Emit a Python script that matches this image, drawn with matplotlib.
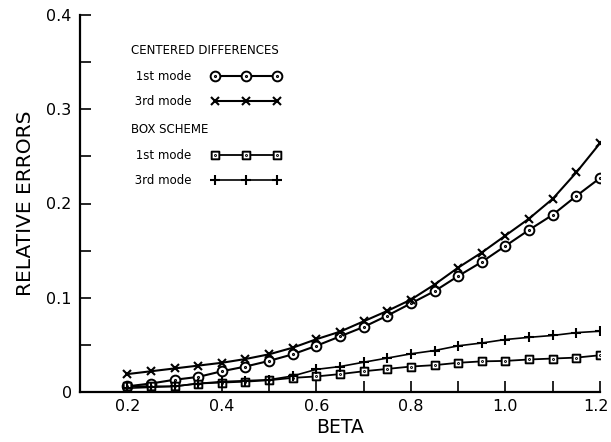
import numpy as np
import matplotlib
matplotlib.use('Agg')
import matplotlib.pyplot as plt
from matplotlib.path import Path
from matplotlib.lines import Line2D
from matplotlib.legend_handler import HandlerLine2D
from matplotlib.ticker import MultipleLocator
from matplotlib.transforms import ScaledTranslation

# beta values, step 0.05
beta = [0.20, 0.25, 0.30, 0.35, 0.40, 0.45, 0.50, 0.55, 0.60, 0.65, 0.70,
        0.75, 0.80, 0.85, 0.90, 0.95, 1.00, 1.05, 1.10, 1.15, 1.20]

# centered differences
cd_mode1 = [0.006, 0.009, 0.013, 0.016, 0.022, 0.027, 0.033, 0.040, 0.049, 0.059, 0.069,
            0.081, 0.094, 0.107, 0.123, 0.138, 0.155, 0.172, 0.188, 0.208, 0.227]
cd_mode3 = [0.019, 0.022, 0.025, 0.028, 0.031, 0.035, 0.040, 0.047, 0.056, 0.064, 0.075,
            0.086, 0.098, 0.114, 0.132, 0.148, 0.166, 0.184, 0.205, 0.233, 0.264]

# box scheme
box_mode1 = [0.006, 0.006, 0.006, 0.009, 0.010, 0.011, 0.0125, 0.015, 0.0165, 0.019, 0.022,
             0.0245, 0.027, 0.0285, 0.031, 0.0325, 0.033, 0.0345, 0.0355, 0.0365, 0.039]
box_mode3 = [0.004, 0.005, 0.006, 0.009, 0.011, 0.012, 0.013, 0.017, 0.024, 0.027, 0.0316,
             0.036, 0.0405, 0.044, 0.049, 0.052, 0.0557, 0.058, 0.060, 0.063, 0.0645]

# markers with a dot in the middle
dot = Path.circle((0, 0), 0.12)
circ_dot = Path.make_compound_path(Path.unit_circle(), dot)
sq = Path([(-1, -1), (1, -1), (1, 1), (-1, 1), (-1, -1)],
          [Path.MOVETO, Path.LINETO, Path.LINETO, Path.LINETO, Path.CLOSEPOLY])
sq_dot = Path.make_compound_path(sq, dot)

plt.rcParams['font.family'] = ['DejaVu Sans']

fig = plt.figure(figsize=(6.11, 4.42), dpi=100)
ax = fig.add_axes([80/611, 1 - 392/442, 520/611, 377/442])

ax.plot(beta, cd_mode1, color='black', lw=1.5, marker=circ_dot, ms=7,
        mfc='white', mec='black', mew=1.4, label=' 1st mode')
ax.plot(beta, cd_mode3, color='black', lw=1.5, marker='x', ms=6,
        mec='black', mew=1.5, label=' 3rd mode')
ax.plot(beta, box_mode1, color='black', lw=1.3, marker=sq_dot, ms=5.5,
        mfc='white', mec='black', mew=1.4, label=' 1st mode')
ax.plot(beta, box_mode3, color='black', lw=1.2, marker='+', ms=7,
        mec='black', mew=1.5, label=' 3rd mode')

ax.set_xlim(0.1, 1.2)
ax.set_ylim(0, 0.4)
ax.xaxis.set_minor_locator(MultipleLocator(0.1))
ax.yaxis.set_minor_locator(MultipleLocator(0.05))
ax.set_xticks([0.2, 0.4, 0.6, 0.8, 1.0, 1.2])
ax.set_xticklabels(['0.2', '0.4', '0.6', '0.8', '1.0', '1.2'])
ax.set_yticks([0, 0.1, 0.2, 0.3, 0.4])
ax.set_yticklabels(['0', '0.1', '0.2', '0.3', '0.4'])
ax.tick_params(which='both', direction='in', width=1.2, length=8,
               labelsize=11.5, colors='black')
ax.tick_params(axis='x', pad=5)
ax.tick_params(axis='y', pad=6)

# keep the last x label inside the figure
last = ax.get_xticklabels()[-1]
last.set_horizontalalignment('right')
last.set_transform(last.get_transform() + ScaledTranslation(0.09, 0, fig.dpi_scale_trans))

for s in ['top', 'right']:
    ax.spines[s].set_visible(False)
for s in ['left', 'bottom']:
    ax.spines[s].set_linewidth(1.6)

ax.set_xlabel('BETA', fontsize=13.5, labelpad=3)
ax.set_ylabel('RELATIVE ERRORS', fontsize=14.5, labelpad=8)

handles, labels = ax.get_legend_handles_labels()
leg_kw = dict(loc='upper left', frameon=False, markerfirst=False, numpoints=3,
              handlelength=7.2, handletextpad=1.0, labelspacing=1.05, borderpad=0,
              alignment='left', prop={'size': 8.5},
              handler_map={Line2D: HandlerLine2D(marker_pad=1.0)})
leg1 = ax.legend(handles[:2], labels[:2], title='CENTERED DIFFERENCES',
                 bbox_to_anchor=(0.087, 0.938), **leg_kw)
leg1.get_title().set_fontsize(8.5)
ax.add_artist(leg1)
leg2 = ax.legend(handles[2:], labels[2:], title='BOX SCHEME',
                 bbox_to_anchor=(0.087, 0.728), **leg_kw)
leg2.get_title().set_fontsize(8.5)

fig.savefig('out.png', dpi=100)
